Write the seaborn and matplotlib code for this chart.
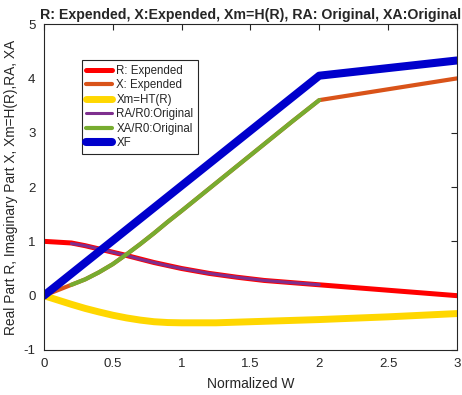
import matplotlib
matplotlib.use("Agg")
import matplotlib.pyplot as plt
import pandas as pd
import seaborn as sns

# values
w_r = [0, 0.2, 0.3, 0.4, 0.5, 0.6, 0.8, 1.0, 1.2, 1.4, 1.6, 1.8, 2.0, 2.5, 3.0]
r_exp = [1.0, 0.97, 0.92, 0.86, 0.80, 0.74, 0.61, 0.50, 0.41, 0.34, 0.28, 0.24, 0.20, 0.10, 0.0]

w_x = [0, 0.2, 0.3, 0.4, 0.5, 0.6, 0.7, 0.8, 0.9, 1.0, 1.2, 1.4, 1.6, 1.8, 2.0, 2.5, 3.0]
x_exp = [0.0, 0.20, 0.30, 0.43, 0.58, 0.76, 0.95, 1.15, 1.36, 1.56, 1.97, 2.38, 2.79, 3.20, 3.60, 3.80, 4.00]

w_m = [0, 0.1, 0.2, 0.3, 0.4, 0.5, 0.6, 0.7, 0.8, 0.9, 1.0, 1.1, 1.25, 1.5, 1.75, 2.0, 2.5, 3.0]
xm = [0.0, -0.08, -0.16, -0.235, -0.30, -0.36, -0.41, -0.45, -0.48, -0.495, -0.50, -0.50, -0.50,
      -0.48, -0.46, -0.44, -0.39, -0.33]

w_a = [0.2, 0.3, 0.4, 0.5, 0.6, 0.7, 0.8, 0.9, 1.0, 1.2, 1.4, 1.6, 1.8, 2.0]
ra = [0.96, 0.92, 0.86, 0.80, 0.74, 0.67, 0.61, 0.55, 0.50, 0.41, 0.34, 0.28, 0.24, 0.20]
xa = [0.20, 0.30, 0.43, 0.58, 0.76, 0.95, 1.15, 1.36, 1.56, 1.97, 2.38, 2.79, 3.20, 3.60]

w_f = [0, 2.0, 3.0]
xf = [0.0, 4.05, 4.33]

x_ticks = [0, 0.5, 1, 1.5, 2, 2.5, 3]
x_tick_labels = ["0", "0.5", "1", "1.5", "2", "2.5", "3"]
y_ticks = [-1, 0, 1, 2, 3, 4, 5]

series = [
    ("R: Expended", w_r, r_exp, "#FF0000", 3.6),
    ("X: Expended", w_x, x_exp, "#D95319", 3.0),
    ("Xm=HT(R)", w_m, xm, "#FFD700", 5.0),
    ("RA/R0:Original", w_a, ra, "#7E2F8E", 2.2),
    ("XA/R0:Original", w_a, xa, "#77AC30", 3.0),
    ("XF", w_f, xf, "#0000CC", 5.8),
]

sns.set_style("white")
plt.rcParams["font.family"] = ["Liberation Sans", "DejaVu Sans"]
plt.rcParams["axes.unicode_minus"] = False

fig = plt.figure(figsize=(4.62, 3.95), dpi=100)
ax = fig.add_axes([0.095, 0.114, 0.894, 0.825])

for name, xs, ys, color, lw in series:
    df = pd.DataFrame({"w": xs, "v": ys})
    sns.lineplot(data=df, x="w", y="v", ax=ax, color=color, linewidth=lw,
                 label=name, sort=False, estimator=None)

ax.set_xlim(0, 3)
ax.set_ylim(-1, 5)
ax.set_xticks(x_ticks)
ax.set_xticklabels(x_tick_labels)
ax.set_yticks(y_ticks)
ax.tick_params(direction="in", length=4, width=0.8, top=True, right=True,
               labelsize=9.5, colors="#262626", pad=6)
for sp in ax.spines.values():
    sp.set_color("#262626")
    sp.set_linewidth(0.8)

ax.set_xlabel("Normalized W", fontsize=10, color="#262626", labelpad=5)
ax.set_ylabel("Real Part R, Imaginary Part X, Xm=H(R),RA, XA", fontsize=9.9, color="#262626",
              labelpad=4)
ax.set_title("R: Expended, X:Expended, Xm=H(R), RA: Original, XA:Original",
             fontsize=10.2, fontweight="bold", pad=4)

leg = ax.legend(loc="upper left", bbox_to_anchor=(0.092, 0.89), fontsize=8.3,
                frameon=True, fancybox=False, edgecolor="#262626", framealpha=1,
                handlelength=2.2, handletextpad=0.4, labelspacing=0.22,
                borderpad=0.4, borderaxespad=0)
leg.get_frame().set_linewidth(0.8)

fig.savefig("out.png", dpi=100)
